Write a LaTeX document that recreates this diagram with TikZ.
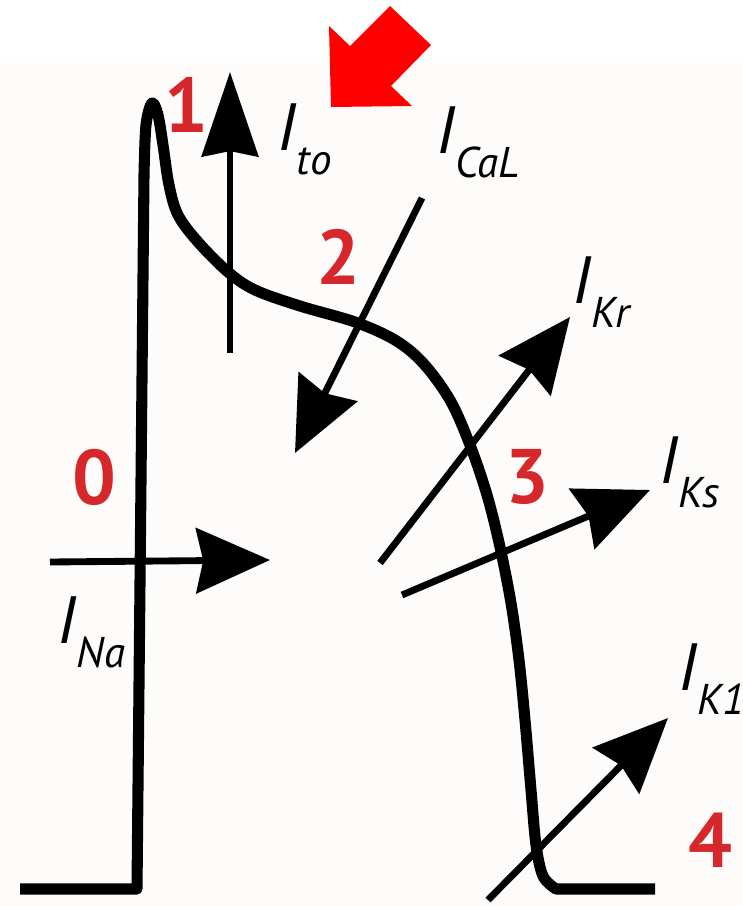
\documentclass[tikz,border=0pt]{standalone}
\usepackage{fontspec}
\setmainfont{PT Sans}
\usetikzlibrary{arrows.meta}

\definecolor{phasered}{RGB}{214,40,42}
\definecolor{paper}{RGB}{253,252,251}
\newcommand{\subcur}[1]{\kern0.5pt\raisebox{-14pt}{\fontsize{24.5}{24.5}\selectfont #1}}

\begin{document}
\begin{tikzpicture}[
  x=0.2mm, y=-0.2mm,
  apline/.style ={line width=6.3pt,line join=round,line cap=butt},
  current/.style={line width=3.9pt,-{Stealth[length=42pt,width=37pt,inset=4pt]}},
  curlabel/.style={anchor=base west,inner sep=0pt,font=\fontsize{38}{38}\selectfont\itshape},
  phase/.style  ={inner sep=0pt,text=phasered,font=\fontsize{44}{44}\selectfont\bfseries},
]
\useasboundingbox (0,0) rectangle (743,906);
\fill[paper] (0,63) rectangle (743,906);

%% ======================================================
%% Action potential
%% ======================================================
\draw[apline] (20,889) -- (137,889) -- (144,175)
  -- plot[smooth,tension=0.55] coordinates {
     (144,175) (146,125) (152,103) (158,115) (163,145) (169,185)
     (178,215) (198,242) (228,272) (255,290) (300,306) (355,322)
     (395,340) (423,363) (450,400) (470,445) (487,495) (500,547)
     (511,603) (519,660) (525,720) (531,790) (536,845) (543,876) (556,889)}
  -- (655,889);

%% --- Arrow end points ---
\coordinate (na-s)  at (50,562);   \coordinate (na-e)  at (270,560);
\coordinate (to-s)  at (230,353);  \coordinate (to-e)  at (230,72);
\coordinate (cal-s) at (422,198);  \coordinate (cal-e) at (295,453);
\coordinate (kr-s)  at (380,563);  \coordinate (kr-e)  at (570,317);
\coordinate (ks-s)  at (402,595);  \coordinate (ks-e)  at (650,490);
\coordinate (k1-s)  at (488,900);  \coordinate (k1-e)  at (668,718);

%% --- Currents ---
\draw[current] (na-s)  -- (na-e);
\draw[current,-{Stealth[length=48pt,width=32pt,inset=3pt]}] (to-s) -- (to-e);
\draw[current] (cal-s) -- (cal-e);
\draw[current] (kr-s)  -- (kr-e);
\draw[current] (ks-s)  -- (ks-e);
\draw[current] (k1-s)  -- (k1-e);

%% --- Current labels ---
\node[curlabel] (l-na)  at (57,643)  {I\subcur{Na}};
\node[curlabel] (l-to)  at (277,150) {I\subcur{to}};
\node[curlabel] (l-cal) at (436,153) {I\subcur{CaL}};
\node[curlabel] (l-kr)  at (572,303) {I\subcur{Kr}};
\node[curlabel] (l-ks)  at (659,483) {I\subcur{Ks}};
\node[curlabel] (l-k1)  at (678,690) {I\subcur{K1}};

%% --- Phase numbers ---
\node[phase] (p0) at (94,477)  {0};
\node[phase] (p1) at (186,105) {1};
\node[phase] (p2) at (338,257) {2};
\node[phase] (p3) at (527,477) {3};
\node[phase] (p4) at (710,840) {4};

%% --- Red pointer ---
\fill[red] (331,107) -- (329,26) -- (350,46) -- (390,6) -- (431,45)
           -- (391,86) -- (412,106) -- cycle;
\end{tikzpicture}
\end{document}
